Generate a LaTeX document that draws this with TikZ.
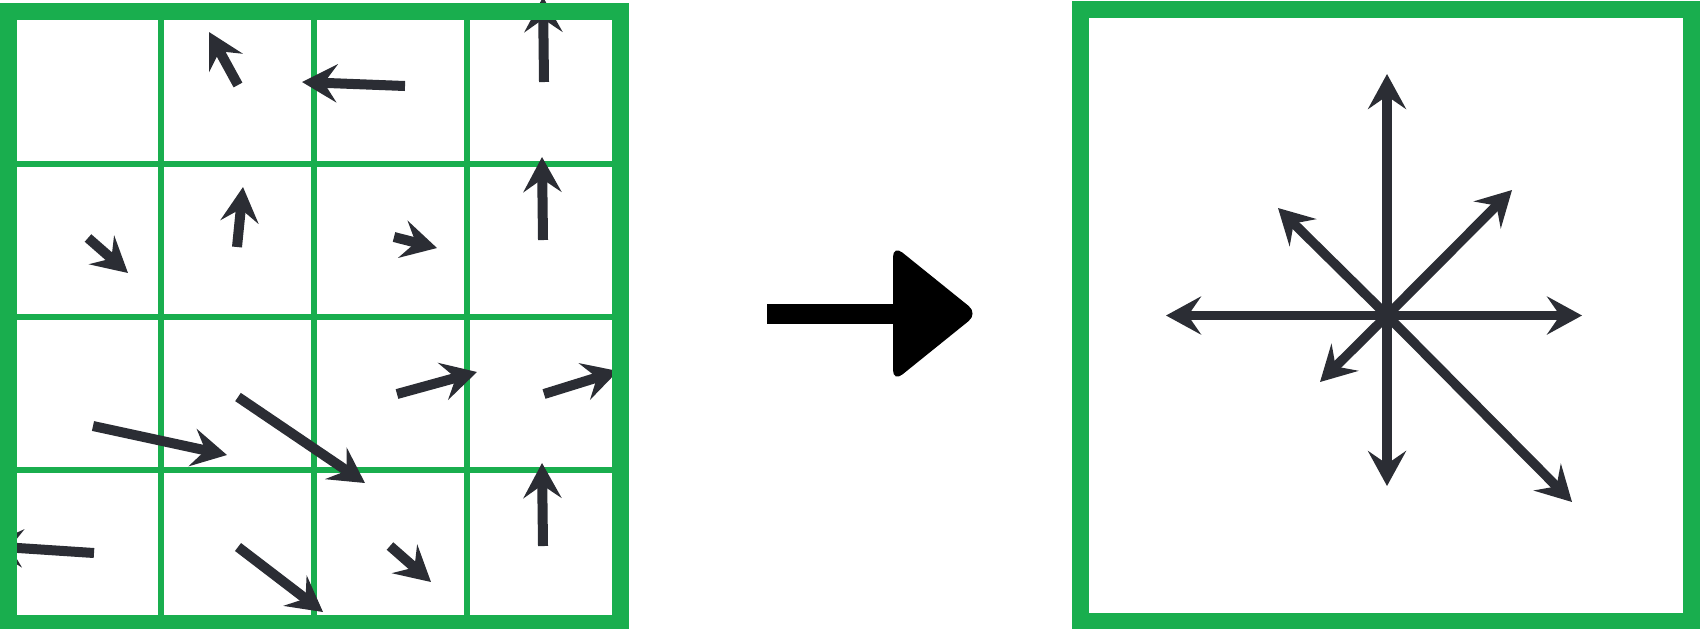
\documentclass[tikz,border=0pt]{standalone}
\usepackage{tikz}
\usetikzlibrary{arrows.meta}
\definecolor{gridgreen}{RGB}{25,174,78}
\definecolor{vecgray}{RGB}{43,45,52}

\begin{document}
\begin{tikzpicture}[x=0.1mm, y=-0.1mm,
    frame/.style={gridgreen, line width=1.7mm},
    cell/.style={gridgreen, line width=0.65mm},
    vecarrow/.style={vecgray, line width=1mm, -{Stealth[length=3.5mm, width=3.8mm, inset=1.3mm]}}]
    \useasboundingbox (0,0) rectangle (1700,628);
% inner grid of the field
    \foreach \k in {161,314,467}{
        \draw[cell](\k,11)--(\k,623);
        \draw[cell](8,\k+3)--(620,\k+3);
    }
% local vectors
    \draw[vecarrow](238,85)--(209,32);
    \draw[vecarrow](405,86)--(302,82);
    \draw[vecarrow](544,82)--(543,-3);
    \draw[vecarrow](88,238)--(128,273);
    \draw[vecarrow](237,247)--(243,187);
    \draw[vecarrow](394,237)--(437,248);
    \draw[vecarrow](543,240)--(542,157);
    \draw[vecarrow](93,426)--(227,455);
    \draw[vecarrow](238,397)--(365,483);
    \draw[vecarrow](397,394)--(477,372);
    \draw[vecarrow](544,394)--(618,371);
    \draw[vecarrow](94,553)--(-12,546);
    \draw[vecarrow](238,547)--(323,612);
    \draw[vecarrow](390,546)--(431,582);
    \draw[vecarrow](543,546)--(542,463);
    \draw[frame](8,11) rectangle (620,623);
% big arrow
    \draw[line width=2mm](767,313.5)--(896,313.5);
    \fill[rounded corners=1.2mm](893,313.5)--(893,245)--(978,313.5)--(893,382)--cycle;
% collected vectors
    \coordinate (c) at (1387,315.5);
    \foreach \p in {(1387,74),(1387,486),(1166,315.5),(1582,315.5),(1512,190),(1278,208),(1320,382),(1572,502)}
        \draw[vecarrow, line width=0.95mm](c)--\p;
    \draw[frame](1080,9.5) rectangle (1691.5,621);
\end{tikzpicture}
\end{document}
